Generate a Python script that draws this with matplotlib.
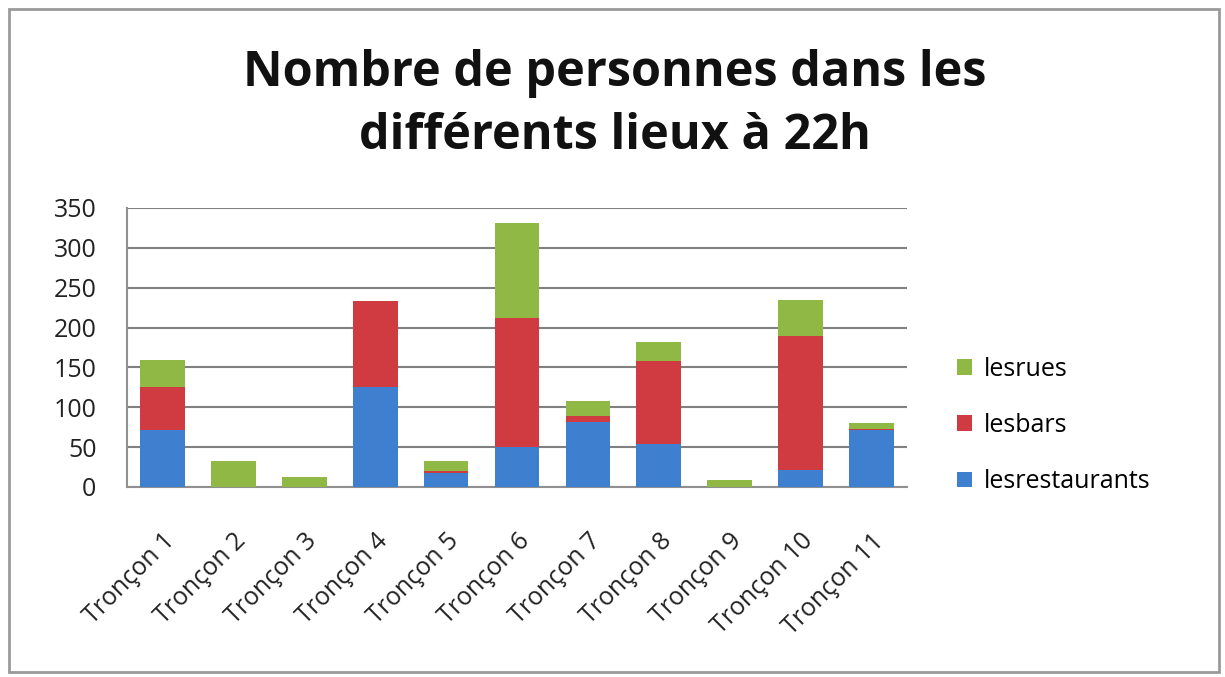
import numpy as np
import matplotlib.pyplot as plt
from matplotlib.patches import Rectangle

plt.rcParams['font.family'] = ['Open Sans', 'DejaVu Sans']

troncons = ['Tronçon 1', 'Tronçon 2', 'Tronçon 3', 'Tronçon 4', 'Tronçon 5',
            'Tronçon 6', 'Tronçon 7', 'Tronçon 8', 'Tronçon 9', 'Tronçon 10',
            'Tronçon 11']
restaurants = [72, 0, 0, 126, 18, 50, 82, 54, 0, 21, 72]
bars = [54, 0, 0, 107, 2, 162, 7, 104, 0, 168, 1]
rues = [33, 33, 12, 0, 13, 119, 19, 24, 9, 46, 7]

c_rest = '#3f7fcf'
c_bars = '#cf3b40'
c_rues = '#8fb845'

fig = plt.figure(figsize=(12.25, 6.77), dpi=100)
fig.patches.append(Rectangle((0.007, 0.007), 0.988, 0.98, transform=fig.transFigure,
                             fill=False, edgecolor='#9a9a9a', linewidth=2))

ax = fig.add_axes([127 / 1225, 1 - 487 / 677, 780 / 1225, 279 / 677])

x = np.arange(len(troncons))
w = 0.63
b1 = ax.bar(x, restaurants, w, color=c_rest, label='lesrestaurants', zorder=3)
b2 = ax.bar(x, bars, w, bottom=restaurants, color=c_bars, label='lesbars', zorder=3)
bottom2 = np.array(restaurants) + np.array(bars)
b3 = ax.bar(x, rues, w, bottom=bottom2, color=c_rues, label='lesrues', zorder=3)

ax.set_xlim(-0.5, len(troncons) - 0.5)
ax.set_ylim(0, 350)
ax.set_yticks(range(0, 351, 50))
ax.yaxis.grid(True, color='#808080', linewidth=1.5, zorder=0)
for s in ['top', 'right']:
    ax.spines[s].set_visible(False)
ax.spines['left'].set_color('#909090')
ax.spines['bottom'].set_color('#909090')
ax.spines['left'].set_linewidth(1.5)
ax.spines['bottom'].set_linewidth(1.5)
ax.tick_params(axis='y', length=0, pad=22, labelsize=18, labelcolor='#222222')
ax.tick_params(axis='x', length=0, pad=30, labelsize=18, labelcolor='#222222')
ax.set_xticks(x)
ax.set_xticklabels(troncons, rotation=45, ha='right', va='top', rotation_mode='anchor')

ax.legend(handles=[b3, b2, b1], loc='center left', bbox_to_anchor=(1.035, 0.22),
          frameon=False, fontsize=18, labelspacing=1.25, handlelength=0.6,
          handleheight=0.6, handletextpad=0.5)

fig.text(0.502, 0.845, 'Nombre de personnes dans les\ndifférents lieux à 22h',
         ha='center', va='center', fontsize=35, fontweight='bold',
         linespacing=1.4, color='#111111')

fig.savefig('out.png', dpi=100)
